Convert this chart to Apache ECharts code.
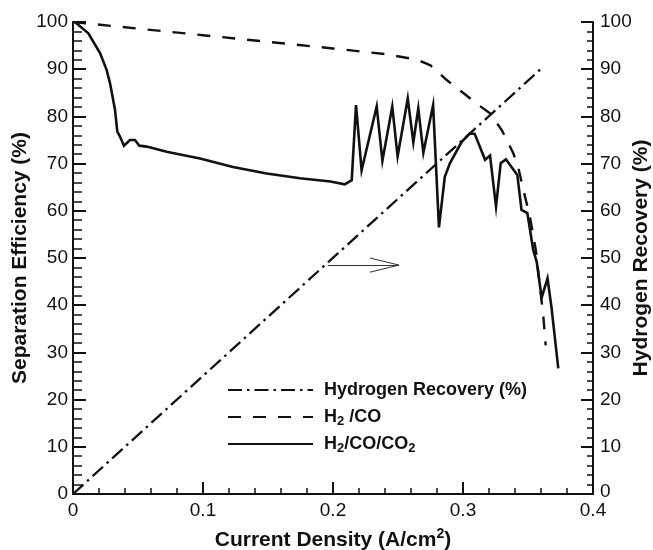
<!DOCTYPE html>
<html>
<head>
<meta charset="utf-8">
<script src="https://cdn.jsdelivr.net/npm/echarts@6/dist/echarts.min.js"></script>
<style>
  html, body { margin: 0; padding: 0; background: #fff; }
  #chart { width: 653px; height: 550px; }
</style>
</head>
<body>
<div id="chart"></div>
<script>
// Current density (A/cm2) and separation efficiency (%) for the H2/CO/CO2 mixture
const ternaryX = [0.0015, 0.0118, 0.0208, 0.0259, 0.0285, 0.0323, 0.0341, 0.0362, 0.0392, 0.0438,
  0.0477, 0.051, 0.0567, 0.072, 0.0977, 0.123, 0.149, 0.1746, 0.198, 0.209,
  0.2144, 0.2177, 0.222, 0.2336, 0.238, 0.2456, 0.2497, 0.2575, 0.2618, 0.2656,
  0.2695, 0.277, 0.2815, 0.286, 0.29, 0.299, 0.3054, 0.309, 0.317, 0.3208,
  0.3254, 0.329, 0.333, 0.3418, 0.345, 0.3495, 0.354, 0.3567, 0.3605, 0.365,
  0.368, 0.3733];
const ternaryY = [100, 97.6, 93.4, 89.8, 87, 81.4, 76.8, 75.7, 73.8, 75,
  75, 73.8, 73.6, 72.5, 71.1, 69.3, 67.9, 66.9, 66.2, 65.6,
  66.5, 82.4, 68.6, 82.1, 70.6, 82.1, 71.5, 83.8, 74.5, 81.7,
  72.3, 82.4, 56.5, 67.2, 70.1, 74.6, 76.4, 76.3, 70.8, 71.7,
  60.9, 70.1, 70.9, 67.6, 60.2, 59.5, 51.7, 49.2, 41.6, 45.7,
  39.7, 26.6];

// Separation efficiency (%) for the H2/CO mixture
const binaryX = [0, 0.05, 0.1, 0.15, 0.2, 0.24, 0.265, 0.275, 0.2875, 0.3,
  0.313, 0.321, 0.3298, 0.3387, 0.343, 0.3477, 0.3515, 0.356, 0.3618, 0.3636];
const binaryY = [100, 98.6, 97.2, 95.8, 94.4, 93.2, 92, 90.8, 87.7, 85,
  82.2, 80.6, 77.1, 72.2, 68.6, 63, 58.7, 51.7, 37.6, 31.5];

// Hydrogen recovery (%), right axis
const recoveryX = [0, 0.3605];
const recoveryY = [0, 90.2];

// Arrow pointing to the right-hand axis: shaft, then the two barbs
const arrowTail = [0.196, 48.5];
const arrowTip = [0.2507, 48.5];
const arrowBarbs = [[0.2285, 50.0], [0.2285, 47.0]];

// Axis ranges and tick labels
const xRange = [0, 0.4];
const xStep = 0.1;
const yRange = [0, 100];
const yStep = 10;

const seriesNames = ['Hydrogen Recovery (%)', 'H2/CO', 'H2/CO/CO2'];
const legendRich = {
  'Hydrogen Recovery (%)': 'Hydrogen Recovery (%)',
  'H2/CO': 'H{sub|2} /CO',
  'H2/CO/CO2': 'H{sub|2}/CO/CO{sub|2}'
};

const ink = '#111';
const FONT = '"Liberation Sans", Arial, Helvetica, sans-serif';

function pairs(xs, ys) { return xs.map((x, i) => [x, ys[i]]); }

const chart = echarts.init(document.getElementById('chart'), null, { renderer: 'canvas' });

const axisTitleStyle = { fontFamily: FONT, fontSize: 21, fontWeight: 'bold', color: ink };
const tickLabelStyle = { fontFamily: FONT, fontSize: 19, color: ink };

chart.setOption({
  animation: false,
  backgroundColor: '#fff',
  grid: { left: 73, right: 60, top: 22, bottom: 56, outerBoundsMode: 'none', containLabel: false },
  legend: {
    orient: 'vertical',
    left: 222,
    top: 374,
    itemWidth: 85,
    itemHeight: 14,
    itemGap: 5,
    data: seriesNames,
    formatter: (name) => legendRich[name],
    // only the line sample is shown, no marker on it
    itemStyle: { color: 'rgba(0,0,0,0)', borderColor: 'rgba(0,0,0,0)', borderWidth: 0 },
    textStyle: {
      fontFamily: FONT, fontSize: 18, fontWeight: 'bold', color: ink,
      lineHeight: 22, padding: [0, 0, 0, 6],
      rich: {
        sub: { fontFamily: FONT, fontSize: 13, fontWeight: 'bold', color: ink,
               lineHeight: 8, verticalAlign: 'bottom' }
      }
    }
  },
  xAxis: {
    type: 'value',
    min: xRange[0], max: xRange[1], interval: xStep,
    name: 'Current Density (A/cm{sup|2})',
    nameLocation: 'middle',
    nameGap: 33,
    nameMoveOverlap: false,
    nameTextStyle: Object.assign({
      rich: { sup: { fontFamily: FONT, fontSize: 14, fontWeight: 'bold', color: ink,
                     lineHeight: 26, verticalAlign: 'top' } }
    }, axisTitleStyle),
    axisLine: { show: true, lineStyle: { color: ink, width: 2 } },
    axisTick: { show: true, inside: true, length: 12, lineStyle: { color: ink, width: 2 } },
    minorTick: { show: true, splitNumber: 5, length: 6, lineStyle: { color: ink, width: 1.5 } },
    axisLabel: Object.assign({ margin: 7, formatter: (v) => String(+v.toFixed(1)) }, tickLabelStyle),
    splitLine: { show: false }
  },
  yAxis: [
    {
      type: 'value',
      position: 'left',
      min: yRange[0], max: yRange[1], interval: yStep,
      name: 'Separation Efficiency (%)',
      nameLocation: 'middle',
      nameRotate: 90,
      nameGap: 42,
      nameMoveOverlap: false,
      nameTextStyle: axisTitleStyle,
      axisLine: { show: true, onZero: false, lineStyle: { color: ink, width: 2 } },
      axisTick: { show: true, inside: true, length: 13, lineStyle: { color: ink, width: 2 } },
      minorTick: { show: true, splitNumber: 5, length: 9, lineStyle: { color: ink, width: 1.5 } },
      axisLabel: Object.assign({ margin: 5 }, tickLabelStyle),
      splitLine: { show: false }
    },
    {
      type: 'value',
      position: 'right',
      min: yRange[0], max: yRange[1], interval: yStep,
      name: 'Hydrogen Recovery (%)',
      nameLocation: 'middle',
      nameRotate: 90,
      nameGap: 38,
      nameMoveOverlap: false,
      nameTextStyle: axisTitleStyle,
      axisLine: { show: true, onZero: false, lineStyle: { color: ink, width: 2 } },
      axisTick: { show: true, inside: true, length: 12, lineStyle: { color: ink, width: 2 } },
      minorTick: { show: true, splitNumber: 5, length: 6, lineStyle: { color: ink, width: 1.5 } },
      axisLabel: Object.assign({
        margin: 7,
        formatter: (v) => (v === 0 ? '{lift|0}' : String(v)),
        rich: { lift: { fontFamily: FONT, fontSize: 19, color: ink, padding: [0, 0, 5, 0] } }
      }, tickLabelStyle),
      splitLine: { show: false }
    }
  ],
  series: [
    {
      name: seriesNames[0],
      type: 'line',
      yAxisIndex: 1,
      data: pairs(recoveryX, recoveryY),
      symbol: 'none',
      lineStyle: { color: ink, width: 2.3, type: [14, 5, 2.5, 5] },
      itemStyle: { color: ink },
      markLine: {
        silent: true,
        symbol: 'none',
        label: { show: false },
        lineStyle: { color: '#333', width: 1, type: 'solid' },
        data: [
          [{ coord: arrowTail }, { coord: arrowTip }],
          [{ coord: arrowBarbs[0] }, { coord: arrowTip }],
          [{ coord: arrowBarbs[1] }, { coord: arrowTip }]
        ]
      }
    },
    {
      name: seriesNames[1],
      type: 'line',
      data: pairs(binaryX, binaryY),
      symbol: 'none',
      lineStyle: { color: ink, width: 2.4, type: [13, 12] },
      itemStyle: { color: ink }
    },
    {
      name: seriesNames[2],
      type: 'line',
      data: pairs(ternaryX, ternaryY),
      symbol: 'none',
      lineStyle: { color: ink, width: 2.6, type: 'solid', join: 'miter' },
      itemStyle: { color: ink }
    }
  ]
});
</script>
</body>
</html>
